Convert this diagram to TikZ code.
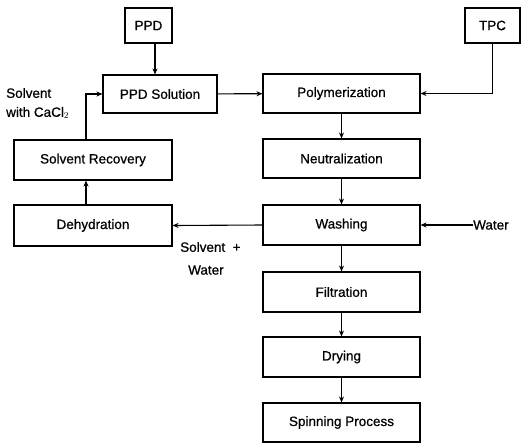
\documentclass[tikz,border=0pt]{standalone}
\usepackage{fontspec}
\setmainfont{Liberation Sans}[FakeBold=0.7]
\usetikzlibrary{arrows.meta}
\begin{document}
\begin{tikzpicture}[x=1pt,y=-1pt,
  box/.style={draw,line width=1.1pt,minimum width=157pt,minimum height=39pt,inner sep=0pt,font=\fontsize{13.5}{15}\selectfont},
  lbl/.style={font=\fontsize{13.5}{15}\selectfont,inner sep=0pt,anchor=west},
  flow/.style={line width=1.1pt,-{Stealth[length=6pt,width=5pt]}}]
\useasboundingbox (0,0) rectangle (530,445);
\node[box,minimum width=47pt,minimum height=35pt] (ppd) at (148.5,25.5) {PPD};
\node[box,minimum width=114pt,minimum height=38pt] (ppdsol) at (160,94) {PPD Solution};
\node[box] (poly) at (341.5,93.5) {Polymerization};
\node[box,minimum width=55pt,minimum height=35pt] (tpc) at (492.5,25.5) {TPC};
\node[box] (neut) at (341.5,158.5) {Neutralization};
\node[box,minimum height=40pt] (wash) at (341.5,225) {Washing};
\node[box,minimum height=40pt] (filt) at (341.5,292) {Filtration};
\node[box,minimum height=40pt] (dry) at (341.5,357) {Drying};
\node[box] (spin) at (341.5,422.5) {Spinning Process};
\node[box,minimum width=158pt,minimum height=40pt] (solrec) at (93,160) {Solvent Recovery};
\node[box,minimum width=158pt,minimum height=41pt] (dehyd) at (93,225.5) {Dehydration};
\node[lbl] (water) at (473,225) {Water};
\node[lbl] (solv1) at (6,93) {Solvent};
\node[lbl] (solv2) at (6,113) {with CaCl$_2$};
\node[lbl] (sw1) at (180,247) {Solvent\ \ +};
\node[lbl] (sw2) at (188,270) {Water};
\coordinate (xa) at (155,0);
\coordinate (xb) at (86,0);
\draw[flow] (ppd.south -| xa) -- (ppdsol.north -| xa);
\draw[flow] (ppdsol) -- (poly);
\draw[flow] (tpc.south) |- (poly.east);
\draw[flow] (poly) -- (neut);
\draw[flow] (neut) -- (wash);
\draw[flow] (wash) -- (filt);
\draw[flow] (filt) -- (dry);
\draw[flow] (dry) -- (spin);
\draw[flow] (water.west) -- (wash.east);
\draw[flow] (wash.west) -- (dehyd.east);
\draw[flow] (dehyd.north -| xb) -- (solrec.south -| xb);
\draw[flow] (solrec.north -| xb) |- (ppdsol.west);
\end{tikzpicture}
\end{document}
